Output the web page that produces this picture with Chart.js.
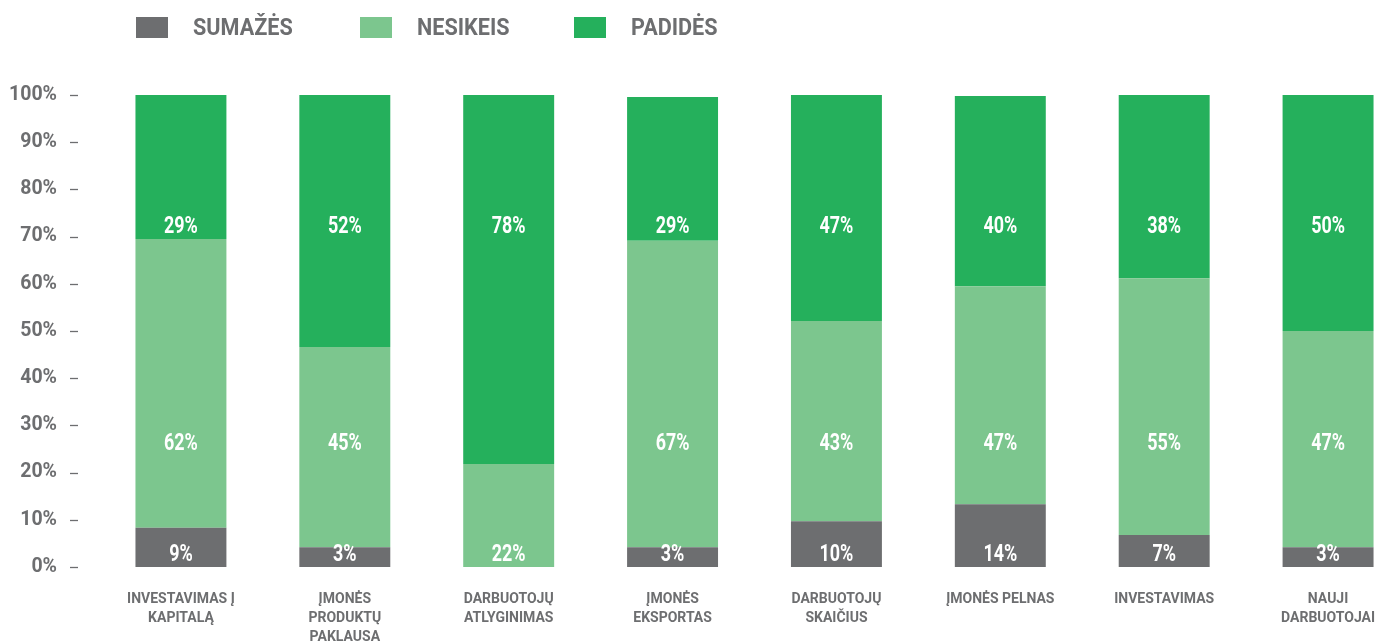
<!DOCTYPE html>
<html>
<head>
<meta charset="utf-8">
<script src="https://cdn.jsdelivr.net/npm/chart.js@4/dist/chart.umd.min.js"></script>
<style>
body{margin:0;background:#fff;overflow:hidden;}
#wrap{position:relative;width:1380px;height:642px;overflow:hidden;}
#legend{position:absolute;left:136px;top:17px;font-family:Roboto,sans-serif;font-weight:bold;font-size:24px;color:#6d6e70;}
.item{position:absolute;top:0;height:21px;white-space:nowrap;}
.box{position:absolute;left:0;top:0;width:32px;height:21px;}
.item span{position:absolute;left:57px;top:-3px;line-height:27px;transform:scaleX(0.9);transform-origin:left center;}
canvas{position:absolute;left:0;top:0;}
</style>
</head>
<body>
<div id="wrap">
<canvas id="myChart" width="1412" height="642"></canvas>
<div id="legend"></div>
</div>
<script>
// data
var categories = [
  ["INVESTAVIMAS Į","KAPITALĄ"],
  ["ĮMONĖS","PRODUKTŲ","PAKLAUSA"],
  ["DARBUOTOJŲ","ATLYGINIMAS"],
  ["ĮMONĖS","EKSPORTAS"],
  ["DARBUOTOJŲ","SKAIČIUS"],
  "ĮMONĖS PELNAS",
  "INVESTAVIMAS",
  ["NAUJI","DARBUOTOJAI"]
];
var seriesNames = ["SUMAŽĖS","NESIKEIS","PADIDĖS"];
var sumazes  = [8.3, 4.2, 0,    4.2, 9.7, 13.3, 6.8, 4.2];
var nesikeis = [61.2, 42.4, 21.8, 64.9, 42.4, 46.2, 54.4, 45.8];
var padides  = [30.5, 53.4, 78.2, 30.5, 47.9, 40.3, 38.8, 50];
var sumazesTxt  = ["9%","3%","","3%","10%","14%","7%","3%"];
var nesikeisTxt = ["62%","45%","22%","67%","43%","47%","55%","47%"];
var padidesTxt  = ["29%","52%","78%","29%","47%","40%","38%","50%"];
var labelLevels = [2.5, 26, 72];
var colors = ["#6d6e70","#7cc68e","#25b05c"];

var fontFam = "Roboto, sans-serif";
var txtColor = "#6d6e70";

// html legend
var lg = document.getElementById("legend");
var legendStep = [0, 224, 438];
seriesNames.forEach(function(n,i){
  var it = document.createElement("div"); it.className="item"; it.style.left=legendStep[i]+"px";
  var b = document.createElement("div"); b.className="box"; b.style.background=colors[i];
  var t = document.createElement("span"); t.textContent=n;
  it.appendChild(b); it.appendChild(t); lg.appendChild(it);
});

// labels inside bars + tick dashes
var barText = {
  id:"barText",
  afterDatasetsDraw:function(chart){
    var ctx = chart.ctx, y = chart.scales.y;
    var texts = [sumazesTxt, nesikeisTxt, padidesTxt];
    ctx.save();
    ctx.fillStyle="#fff";
    ctx.font="bold 23px "+fontFam;
    ctx.textAlign="center";
    ctx.textBaseline="middle";
    categories.forEach(function(c,j){
      texts.forEach(function(arr,i){
        var s = arr[j];
        if(!s) return;
        var lvl = i;
        // no gray segment -> middle label sits at the bottom
        if(i==1 && !sumazesTxt[j]) lvl = 0;
        var x = chart.getDatasetMeta(i).data[j].x;
        var py = y.getPixelForValue(labelLevels[lvl]);
        ctx.save();
        ctx.translate(x, py);
        ctx.scale(0.78,1);
        ctx.fillText(s, 0, 0);
        ctx.restore();
      });
    });
    // dashes next to y ticks
    ctx.strokeStyle=txtColor;
    ctx.lineWidth=1.3;
    y.ticks.forEach(function(t){
      var py = Math.round(y.getPixelForValue(t.value))+0.5;
      ctx.beginPath();
      ctx.moveTo(y.right-29, py);
      ctx.lineTo(y.right-21, py);
      ctx.stroke();
    });
    ctx.restore();
  }
};

var ctx = document.getElementById("myChart");
var chart = new Chart(ctx, {
  type:"bar",
  data:{
    labels:categories,
    datasets:[
      {label:seriesNames[0], data:sumazes, backgroundColor:colors[0]},
      {label:seriesNames[1], data:nesikeis, backgroundColor:colors[1]},
      {label:seriesNames[2], data:padides, backgroundColor:colors[2]}
    ]
  },
  options:{
    responsive:false,
    animation:false,
    layout:{padding:{top:95,right:2,bottom:0,left:0}},
    plugins:{legend:{display:false},tooltip:{enabled:false}},
    datasets:{bar:{barPercentage:0.555,categoryPercentage:1}},
    scales:{
      x:{
        stacked:true,
        grid:{display:false,drawTicks:false},
        border:{display:false},
        ticks:{color:txtColor,font:{family:fontFam,size:14,weight:"bold",lineHeight:1.36},padding:23,maxRotation:0,autoSkip:false},
        afterFit:function(s){s.height=75;}
      },
      y:{
        stacked:true,
        min:0,max:100,
        grid:{display:false,drawTicks:false},
        border:{display:false},
        ticks:{stepSize:10,color:txtColor,font:{family:fontFam,size:19.5,weight:"bold"},padding:42,
          callback:function(v){return v+"%";}},
        afterFit:function(s){s.width=99;}
      }
    }
  },
  plugins:[barText]
});
</script>
</body>
</html>
